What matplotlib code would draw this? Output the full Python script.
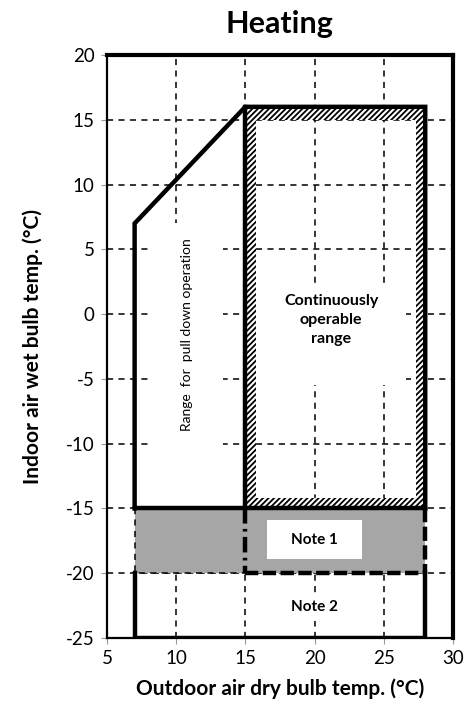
import matplotlib.pyplot as plt
from matplotlib.patches import Rectangle

plt.rcParams['font.family'] = ['Lato', 'DejaVu Sans']
plt.rcParams['hatch.linewidth'] = 1.3
plt.rcParams['axes.unicode_minus'] = False

# axis ranges and ticks
x_ticks = [5, 10, 15, 20, 25, 30]
y_ticks = [-25, -20, -15, -10, -5, 0, 5, 10, 15, 20]

# outline of the pull down + continuous range (°C)
outer_x = [7, 7, 15, 28, 28]
outer_y = [-15, 7, 16, 16, -15]
# divider between the two ranges
div_x = [15, 15]
div_y = [16, -15]
# lower limit of the continuous range
low_x = [7, 28]
low_y = [-15, -15]
# Note 1 zone and Note 2 zone
note1_x = [7, 28]
note1_y = [-20, -15]
note2_x = [7, 7, 28, 28]
note2_y = [-20, -25, -25, -20]
# continuous range box
cont_x = [15, 28]
cont_y = [-15, 16]
band = [0.8, 0.7, 1.0, 0.8]  # left, right, top, bottom hatch widths

fig = plt.figure(figsize=(4.65, 7.07), dpi=100)
ax = fig.add_axes([0.230, 0.0976, 0.744, 0.8246])

ax.set_xlim(5, 30)
ax.set_ylim(-25, 20)
ax.set_xticks(x_ticks)
ax.set_yticks(y_ticks)
ax.grid(True, color='black', linestyle=(0, (4, 3.5)), linewidth=1.1)
ax.set_axisbelow(True)
ax.tick_params(direction='out', length=4, color='#999999', labelsize=13.5,
               pad=5)

for s in ['left', 'bottom']:
    ax.spines[s].set_linewidth(1.6)
for s in ['top', 'right']:
    ax.spines[s].set_linewidth(3)

lw = 3.2

# Note 1 gray zone
ax.add_patch(Rectangle((note1_x[0], note1_y[0]), note1_x[1] - note1_x[0],
                       note1_y[1] - note1_y[0], facecolor='#a6a6a6',
                       edgecolor='none', zorder=2))
ax.plot([7, 7, 15], [-15, -20, -20], color='black', lw=1.1,
        linestyle=(0, (4, 3.5)), zorder=3)

# hatched frame of the continuous range
cx0, cx1 = cont_x
cy0, cy1 = cont_y
bands = [
    (cx0, cy0, band[0], cy1 - cy0),
    (cx1 - band[1], cy0, band[1], cy1 - cy0),
    (cx0, cy1 - band[2], cx1 - cx0, band[2]),
    (cx0, cy0, cx1 - cx0, band[3]),
]
for bx, by, bw, bh in bands:
    ax.add_patch(Rectangle((bx, by), bw, bh, facecolor='white',
                           edgecolor='black', hatch='//////', lw=0, zorder=2))

# white boxes behind the labels
ax.add_patch(Rectangle((8.1, -15), 5.3, 22, facecolor='white',
                       edgecolor='none', zorder=2))
ax.add_patch(Rectangle((15.8, -5.5), 10.8, 7.9, facecolor='white',
                       edgecolor='none', zorder=2))
ax.add_patch(Rectangle((18.0, -23.7), 4.0, 2.2, facecolor='white',
                       edgecolor='none', zorder=2))
ax.add_patch(Rectangle((16.6, -18.9), 6.8, 3.0, facecolor='white',
                       edgecolor='none', zorder=3))

# boundaries
ax.plot(outer_x, outer_y, color='black', lw=lw, zorder=4,
        solid_joinstyle='miter')
ax.plot(div_x, div_y, color='black', lw=lw, zorder=4)
ax.plot(low_x, low_y, color='black', lw=lw, zorder=4)
ax.plot(note2_x, note2_y, color='black', lw=lw, zorder=4,
        solid_joinstyle='miter')
ax.plot([15, 15], [-15, -20], color='black', lw=lw, zorder=4,
        linestyle=(0, (3.5, 1.2, 0.6, 1.2)))
ax.plot([28, 28], [-15, -20], color='black', lw=lw, zorder=4,
        linestyle=(0, (3.2, 1.0)))
ax.plot([15, 28], [-20, -20], color='black', lw=lw, zorder=4,
        linestyle=(0, (3.0, 1.0)))

# labels inside the chart
ax.text(10.75, -1.6, 'Range  for  pull down operation', rotation=90,
        ha='center', va='center', fontsize=10, zorder=5)
ax.text(21.2, -0.45, 'Continuously\noperable\nrange', ha='center',
        va='center', fontsize=11.5, fontweight='bold', linespacing=1.45,
        zorder=5)
ax.text(20, -17.4, 'Note 1', ha='center', va='center', fontsize=11,
        fontweight='bold', zorder=5)
ax.text(20, -22.6, 'Note 2', ha='center', va='center', fontsize=11,
        fontweight='bold', zorder=5)

ax.set_title('Heating', fontsize=22, fontweight='bold', pad=16)
ax.set_xlabel('Outdoor air dry bulb temp. (°C)', fontsize=15,
              fontweight='bold', labelpad=8)
ax.set_ylabel('Indoor air wet bulb temp. (°C)', fontsize=15,
              fontweight='bold', labelpad=16)

fig.savefig('out.png', dpi=100)
